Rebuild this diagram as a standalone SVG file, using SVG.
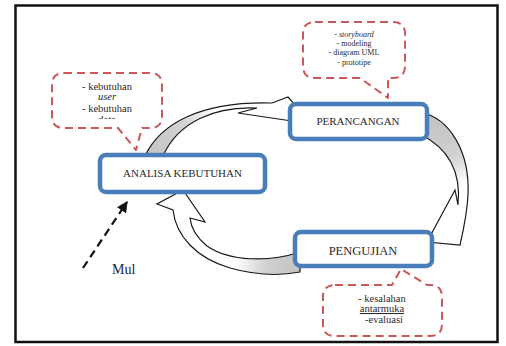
<svg xmlns="http://www.w3.org/2000/svg" width="506" height="346" viewBox="0 0 506 346">
<style>
.frame{fill:#fff;stroke:#111;stroke-width:2.5}
.box{fill:#fff;stroke:#4a7ebb;stroke-width:4.5}
.lbl{font-family:"Liberation Serif","Times New Roman",serif;fill:#2a2a2a;text-anchor:middle}
.call{fill:#fff;stroke:#c9585a;stroke-width:2;stroke-dasharray:8 5;stroke-linejoin:round}
.ctext{font-family:"Liberation Serif","Times New Roman",serif;fill:#2a2a2a;text-anchor:middle}
.band{stroke:#1a1a1a;stroke-width:1.2;stroke-linejoin:miter}
</style>
<defs>
<linearGradient id="g1" gradientUnits="userSpaceOnUse" x1="150" y1="155" x2="215" y2="110">
<stop offset="0" stop-color="#c4c4c4"/><stop offset="0.6" stop-color="#d4d4d4"/><stop offset="1" stop-color="#fff"/>
</linearGradient>
<linearGradient id="g2" gradientUnits="userSpaceOnUse" x1="435" y1="118" x2="465" y2="185">
<stop offset="0" stop-color="#c4c4c4"/><stop offset="0.55" stop-color="#d0d0d0"/><stop offset="1" stop-color="#fff"/>
</linearGradient>
<linearGradient id="g3" gradientUnits="userSpaceOnUse" x1="298" y1="265" x2="235" y2="262">
<stop offset="0" stop-color="#c4c4c4"/><stop offset="0.5" stop-color="#d0d0d0"/><stop offset="1" stop-color="#fff"/>
</linearGradient>
<marker id="ah" viewBox="0 0 10 10" refX="9" refY="5" markerWidth="5" markerHeight="5" orient="auto" markerUnits="strokeWidth">
<path d="M0,0 L10,5 L0,10 Z" fill="#111"/>
</marker>
<clipPath id="clipL"><rect x="50" y="70" width="115" height="49"/></clipPath>
</defs>
<rect class="frame" x="15.5" y="5.5" width="482" height="336.5"/>
<g id="connectors">
<path class="band" fill="url(#g1)" d="M145,156 C160,124 200,101 272,103 L288,97 L312,124 L238,113 L257,108 C215,106 178,122 163,156 Z"/>
<path class="band" fill="url(#g2)" d="M420,112 C450,118 470,152 468,195 C467,215 463,232 460,245 L427,242 L455,190 L458,205 C461,176 452,150 420,134 Z"/>
<path class="band" fill="url(#g3)" d="M300,252 C270,262 230,262 207,246 C196,237 191,228 190,218 L205,222 L183,190 L157,204 L173,210 C176,236 196,258 230,268 C255,275 280,276 300,272 Z"/>
<line x1="83" y1="268" x2="127" y2="202" stroke="#111" stroke-width="2.2" stroke-dasharray="8 5" marker-end="url(#ah)"/>
</g>
<g id="analisa">
<rect class="box" x="100" y="155" width="165" height="37" rx="6"/>
<text class="lbl" x="182.5" y="177" font-size="11">ANALISA KEBUTUHAN</text>
</g>
<g id="perancangan">
<rect class="box" x="290" y="104" width="137" height="35" rx="6"/>
<text class="lbl" x="358" y="125" font-size="11">PERANCANGAN</text>
</g>
<g id="pengujian">
<rect class="box" x="295" y="232" width="137" height="34" rx="6"/>
<text class="lbl" x="363" y="255" font-size="12.5">PENGUJIAN</text>
</g>
<g id="note-perancangan">
<path class="call" d="M315,22 H393 Q405,22 405,34 V66 Q405,78 393,78 H388 V98 L360,78 H315 Q303,78 303,66 V34 Q303,22 315,22 Z"/>
<text class="ctext" font-size="8" x="354" y="37">- <tspan font-style="italic">storyboard</tspan></text>
<text class="ctext" font-size="8" x="354" y="46">- modeling</text>
<text class="ctext" font-size="8" x="354" y="55">- diagram UML</text>
<text class="ctext" font-size="8" x="354" y="65">- prototipe</text>
</g>
<g id="note-analisa">
<path class="call" d="M64,73 H150 Q162,73 162,85 V116 Q162,128 150,128 H142 L136,150 L118,128 H64 Q52,128 52,116 V85 Q52,73 64,73 Z"/>
<g clip-path="url(#clipL)">
<text class="ctext" font-size="10.5" x="107" y="90">- kebutuhan</text>
<text class="ctext" font-size="10.5" x="107" y="100" font-style="italic">user</text>
<text class="ctext" font-size="10.5" x="107" y="112">- kebutuhan</text>
<text class="ctext" font-size="10.5" x="107" y="123">data</text>
</g>
</g>
<g id="note-pengujian">
<path class="call" d="M335,285 H392 L401,269 L427,285 H430 Q442,285 442,297 V324 Q442,336 430,336 H335 Q323,336 323,324 V297 Q323,285 335,285 Z"/>
<text class="ctext" font-size="10.5" x="382" y="302">- kesalahan</text>
<text class="ctext" font-size="10.5" x="382" y="312" text-decoration="underline">antarmuka</text>
<text class="ctext" font-size="10.5" x="384" y="323">-evaluasi</text>
</g>
<g id="mulai">
<text x="112" y="274" font-family="Liberation Serif,Times New Roman,serif" font-size="14" fill="#22263a">Mul</text>
</g>
</svg>
